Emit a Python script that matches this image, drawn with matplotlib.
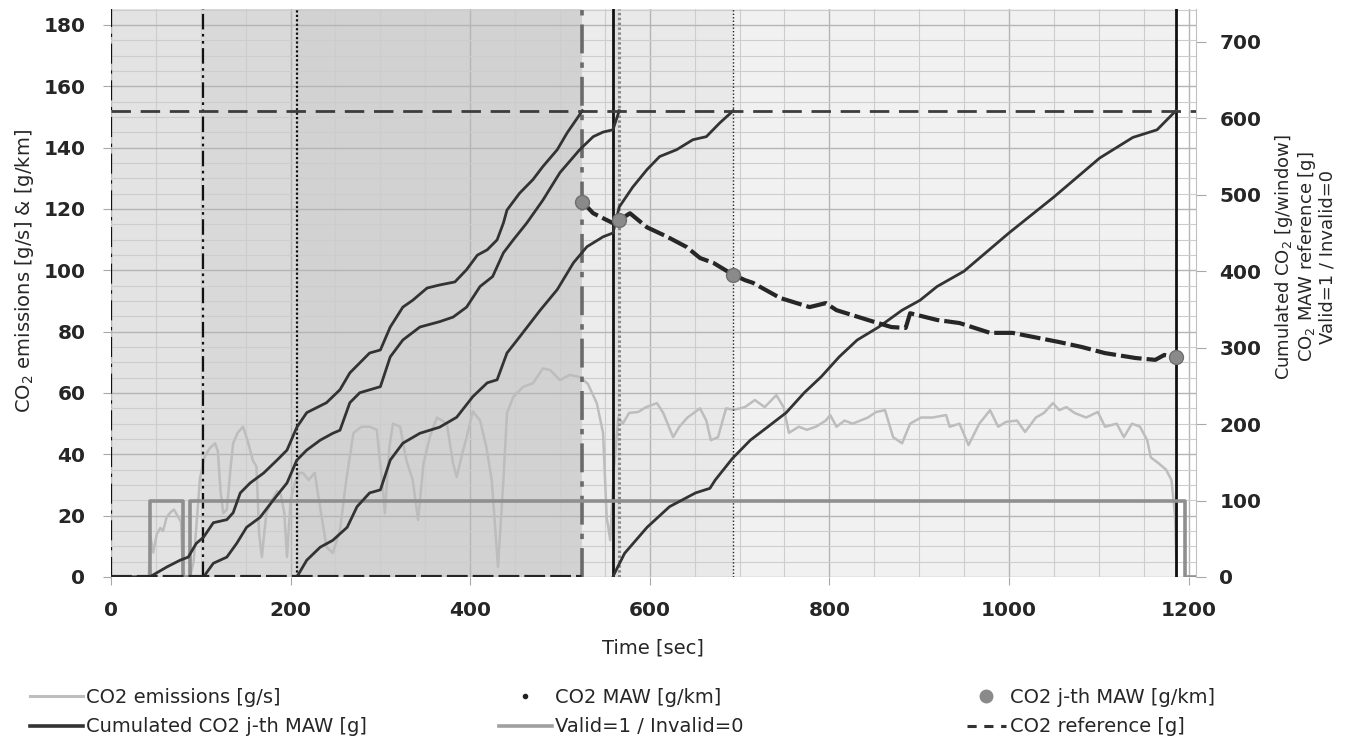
import numpy as np
import matplotlib
matplotlib.use('Agg')
import matplotlib.pyplot as plt
from matplotlib.lines import Line2D
from matplotlib.ticker import MultipleLocator

plt.rcParams['font.family'] = ['DejaVu Sans']

# ---------------- data ----------------
# CO2 emissions [g/s] (left axis)
emis_t = [0, 42, 44, 47, 51, 55, 58, 62, 66, 70, 74, 78, 80, 82, 88, 92, 96, 99, 104, 110,
          116, 119, 122, 125, 129, 133, 136, 141, 147, 152, 158, 162, 165, 168, 173, 179, 185,
          189, 193, 196, 200, 205, 210, 214, 220, 227, 230, 240, 247, 255, 262, 270, 279, 288,
          296, 303, 305, 310, 314, 322, 329, 336, 342, 348, 355, 363, 374, 381, 385, 391, 396,
          403, 411, 418, 424, 428, 431, 437, 441, 448, 459, 470, 481, 489, 500, 511, 522, 531,
          541, 548, 552, 556, 560, 565, 570, 577, 587, 596, 608, 615, 626, 633, 642, 656, 663,
          668, 676, 685, 694, 706, 717, 728, 741, 749, 755, 766, 775, 785, 796, 801, 808, 817,
          826, 843, 852, 862, 871, 881, 890, 902, 915, 930, 934, 945, 955, 967, 979, 988, 997,
          1009, 1018, 1030, 1039, 1049, 1056, 1064, 1073, 1086, 1099, 1107, 1120, 1128, 1137,
          1146, 1154, 1158, 1167, 1175, 1181, 1185, 1187]
emis_v = [0, 0, 13, 8, 14, 16, 15, 19.5, 21, 22, 20, 18, 2, 0, 0, 5, 20, 32, 39, 42,
          43.6, 41, 28, 20.8, 22, 35, 43.6, 47, 49, 44.6, 38, 36, 14, 6.5, 20.8, 25, 28,
          27, 21, 6.5, 25, 31, 34, 33.9, 31.6, 34, 28, 9.8, 7.8, 15.3, 31.6, 47, 49, 49,
          48, 28, 20.8, 42.4, 50, 49, 38, 31.6, 18.6, 37, 45.6, 52, 50, 37, 32.6, 40, 45.6,
          54, 51, 42.4, 31.6, 15.3, 3.3, 31.6, 53.5, 58.7, 62, 63.2, 68, 67.5, 64.2, 65.9, 65.2, 63,
          56.7, 47, 19.6, 12, 35, 52, 50, 53.5, 53.8, 55.4, 56.7, 53.5, 45.6, 49, 52, 55, 51,
          44.6, 45.6, 55, 54.5, 55.4, 57.7, 55.4, 59.3, 55.4, 47, 49, 48, 49, 51, 52.8, 49, 51,
          50, 52, 53.8, 54.4, 45.6, 43.6, 50, 52, 52, 52.8, 49, 50, 43, 50, 54.4, 49, 50.6,
          51, 47.3, 52, 53.5, 56.7, 54.4, 55.4, 53.5, 52, 53.8, 49, 50, 45.6, 50,
          49, 44.6, 39, 37, 35, 31.6, 20, 0]

# Cumulated CO2 of each j-th MAW [g] (right axis)
cum1_t = [0, 43, 62, 77, 86, 95, 103, 114, 129, 136, 144, 155, 170, 185, 196, 207, 218, 240,
          255, 266, 288, 300, 311, 325, 336, 352, 366, 383, 396, 408, 419, 430, 437, 441, 455,
          470, 481, 497, 508, 525]
cum1_g = [0, 0, 13, 22, 26, 44, 52, 71, 75, 84, 110, 123, 136, 153, 166, 196, 215, 228,
          245, 267, 293, 297, 327, 353, 362, 378, 382, 386, 402, 421, 428, 441, 463, 480, 502,
          520, 537, 559, 581, 610]
cum2_t = [103, 114, 129, 140, 151, 166, 181, 196, 207, 218, 233, 247, 255, 266, 277, 300, 311,
          325, 344, 366, 381, 396, 411, 425, 437, 448, 463, 481, 500, 522, 537, 548, 559, 566]
cum2_g = [0, 18, 26, 44, 65, 78, 101, 123, 153, 166, 179, 188, 192, 228, 241, 249, 288,
          310, 327, 334, 340, 353, 380, 393, 424, 441, 463, 493, 529, 559, 576, 582, 585, 610]
cum3_t = [207, 218, 233, 247, 263, 274, 288, 300, 311, 325, 344, 366, 385, 403, 419, 430, 441,
          455, 478, 497, 515, 530, 548, 559, 566, 581, 597, 611, 630, 648, 663, 678, 693]
cum3_g = [0, 22, 39, 48, 65, 92, 110, 114, 153, 175, 188, 196, 209, 236, 254, 258, 293,
          314, 349, 376, 411, 432, 445, 450, 484, 510, 533, 550, 559, 572, 576, 594, 610]
cum4_t = [559, 560, 572, 597, 622, 651, 667, 673, 692, 712, 731, 752, 772, 791, 811, 831, 855,
          881, 901, 920, 950, 1000, 1050, 1101, 1138, 1165, 1186]
cum4_g = [0, 3, 31, 65, 92, 110, 116, 127, 155, 179, 196, 215, 241, 262, 288, 310, 327,
          349, 362, 380, 400, 450, 497, 548, 575, 585, 610]

# CO2 MAW [g/km] (left axis)
maw_t = [0, 524, 524.5, 525, 537, 552, 559, 566, 578, 597, 619, 641, 656, 671, 693, 706, 715,
         745, 778, 796, 808, 843, 869, 885, 890, 920, 945, 979, 1004, 1056, 1081, 1107, 1141,
         1163, 1173, 1186]
maw_v = [0, 0, np.nan, 122.3, 118.6, 116.4, 115.4, 116.4, 118.6, 114, 111, 107.6, 104, 102.4,
         98.5, 96.8, 95.9, 91, 88, 89.3, 87, 83.8, 81.5, 81.2, 86, 83.8, 82.8, 79.6, 79.6, 76.6,
         75, 73, 71.4, 70.8, 72.4, 71.7]

# CO2 j-th MAW [g/km]
jth_t = [525, 566, 693, 1186]
jth_v = [122.3, 116.4, 98.5, 71.7]

# Valid=1 / Invalid=0
valid_t = [0, 43, 80, 88, 1196, 1207]
valid_v = [0, 1, 0, 1, 0, 0]

# CO2 reference [g]
co2_ref_g = 610

# MAW windows [sec]
window_start = [0, 103, 207, 559]
window_end = [525, 566, 693, 1186]

x_ticks = [0, 200, 400, 600, 800, 1000, 1200]
left_ticks = [0, 20, 40, 60, 80, 100, 120, 140, 160, 180]
right_ticks = [0, 100, 200, 300, 400, 500, 600, 700]

# ---------------- figure ----------------
fig = plt.figure(figsize=(13.6, 7.44), dpi=100)
ax = fig.add_axes([111 / 1360, 1 - 577 / 744, (1195.7 - 111) / 1360, (577 - 9) / 744])
ax2 = ax.twinx()
ax.set_xlim(0, 1208)
ax.set_ylim(0, 185.2)
ax2.set_ylim(0, 743)

# window shading
window_alpha = [0.11, 0.045, 0.03, 0.055]
for s, e, a in zip(window_start, window_end, window_alpha):
    ax.axvspan(s, e, color='black', alpha=a, lw=0, zorder=0.2)

# grid
ax.set_axisbelow(True)
ax.set_xticks(x_ticks)
ax.xaxis.set_minor_locator(MultipleLocator(50))
ax.set_yticks(left_ticks)
ax.yaxis.set_minor_locator(MultipleLocator(5))
ax.grid(which='major', axis='both', color='#b5b5b5', lw=1.0)
ax.grid(which='minor', axis='both', color='#cdcdcd', lw=0.8)

for sp in ['top', 'left', 'bottom']:
    ax.spines[sp].set_visible(False)
    ax2.spines[sp].set_visible(False)
ax.spines['right'].set_visible(False)
ax2.spines['right'].set_color('#c0c0c0')

ax.tick_params(axis='both', which='minor', length=0)
ax.tick_params(axis='y', which='major', length=6, color='#a8a8a8', pad=12.5,
               labelsize=14.5)
ax.tick_params(axis='x', which='major', length=6, color='#a8a8a8', pad=11,
               labelsize=14.5)
ax2.set_yticks(right_ticks)
ax2.tick_params(axis='y', length=7, color='#a8a8a8', pad=10, labelsize=14.5)
for lab in ax.get_xticklabels() + ax.get_yticklabels() + ax2.get_yticklabels():
    lab.set_fontweight('bold')
    lab.set_color('#262626')

# emissions (left axis)
ax.plot(emis_t, emis_v, color='#bdbdbd', lw=1.8, zorder=2)

# window boundary lines
ax2.axvline(window_start[0], color='#111111', lw=1.6, dashes=(9, 3, 1.5, 3), zorder=3)
ax2.axvline(window_start[1], color='#111111', lw=1.6, dashes=(7, 2, 1.2, 2, 1.2, 2), zorder=3)
ax2.axvline(window_start[2], color='#111111', lw=1.6, dashes=(1, 1), zorder=3)
ax2.axvline(window_end[0], color='#6a6a6a', lw=2.6, dashes=(8, 2.5, 1.5, 2.5), zorder=3)
ax2.axvline(window_start[3], color='#111111', lw=2.0, zorder=3)
ax2.axvline(window_end[1], color='#8a8a8a', lw=2.2, dashes=(0.8, 0.8), zorder=3)
ax2.axvline(window_end[2], color='#222222', lw=1.0, dashes=(1, 1.5), zorder=3)
ax2.axvline(window_end[3], color='#111111', lw=2.0, zorder=3)

# valid flag (right axis, scaled)
ax2.plot(valid_t, np.array(valid_v) * 100, drawstyle='steps-post', color='#8f8f8f',
         lw=2.6, zorder=4)

# cumulated curves
for ct, cg in [(cum1_t, cum1_g), (cum2_t, cum2_g), (cum3_t, cum3_g), (cum4_t, cum4_g)]:
    ax2.plot(ct, cg, color='#333333', lw=2.0, zorder=5)

# reference
ax2.axhline(co2_ref_g, color='#3c3c3c', lw=2.0, dashes=(7, 3.5), zorder=5)

# MAW (left-axis units)
ax2.plot(maw_t, maw_v, transform=ax.transData, color='#262626', lw=3.0,
         dashes=(5, 1.2), zorder=6)
ax2.plot(jth_t, jth_v, 'o', transform=ax.transData, ms=10, mfc='#8a8a8a',
         mec='#6f6f6f', mew=1.0, zorder=7)

# labels
fig.text(25 / 1360, 1 - 271 / 744, 'CO$_2$ emissions [g/s] & [g/km]', rotation=90,
         ha='center', va='center', fontsize=14, color='#262626')
fig.text(1305 / 1360, 1 - 257 / 744,
         'Cumulated CO$_2$ [g/window]\nCO$_2$ MAW reference [g]\nValid=1 / Invalid=0',
         rotation=90, ha='center', va='center', multialignment='center', fontsize=13,
         linespacing=1.05, color='#262626')
fig.text(653 / 1360, 1 - 648 / 744, 'Time [sec]', ha='center', va='center', fontsize=14,
         color='#262626')

# legend (three columns)
h_em = Line2D([], [], color='#bdbdbd', lw=2.2)
h_cum = Line2D([], [], color='#333333', lw=2.6)
h_maw = Line2D([], [], ls='none', marker='.', color='#222222', ms=6)
h_valid = Line2D([], [], color='#a0a0a0', lw=2.6)
h_jth = Line2D([], [], ls='none', marker='o', ms=9, mfc='#8a8a8a', mec='#8a8a8a')
h_ref = Line2D([], [], color='#333333', lw=2.2, dashes=(3, 2.5))

cols = [([h_em, h_cum], ['CO2 emissions [g/s]', 'Cumulated CO2 j-th MAW [g]'], 30, 2.7),
        ([h_maw, h_valid], ['CO2 MAW [g/km]', 'Valid=1 / Invalid=0'], 499, 2.7),
        ([h_jth, h_ref], ['CO2 j-th MAW [g/km]', 'CO2 reference [g]'], 967, 2.0)]
for hs, ls, x0, hl in cols:
    leg = fig.legend(hs, ls, loc='center left', bbox_to_anchor=(x0 / 1360, 1 - 712 / 744),
                     frameon=False, fontsize=14, handlelength=hl, handletextpad=0.2,
                     labelspacing=0.55, borderpad=0, borderaxespad=0)
    for t in leg.get_texts():
        t.set_color('#262626')

fig.savefig('out.png', dpi=100)
